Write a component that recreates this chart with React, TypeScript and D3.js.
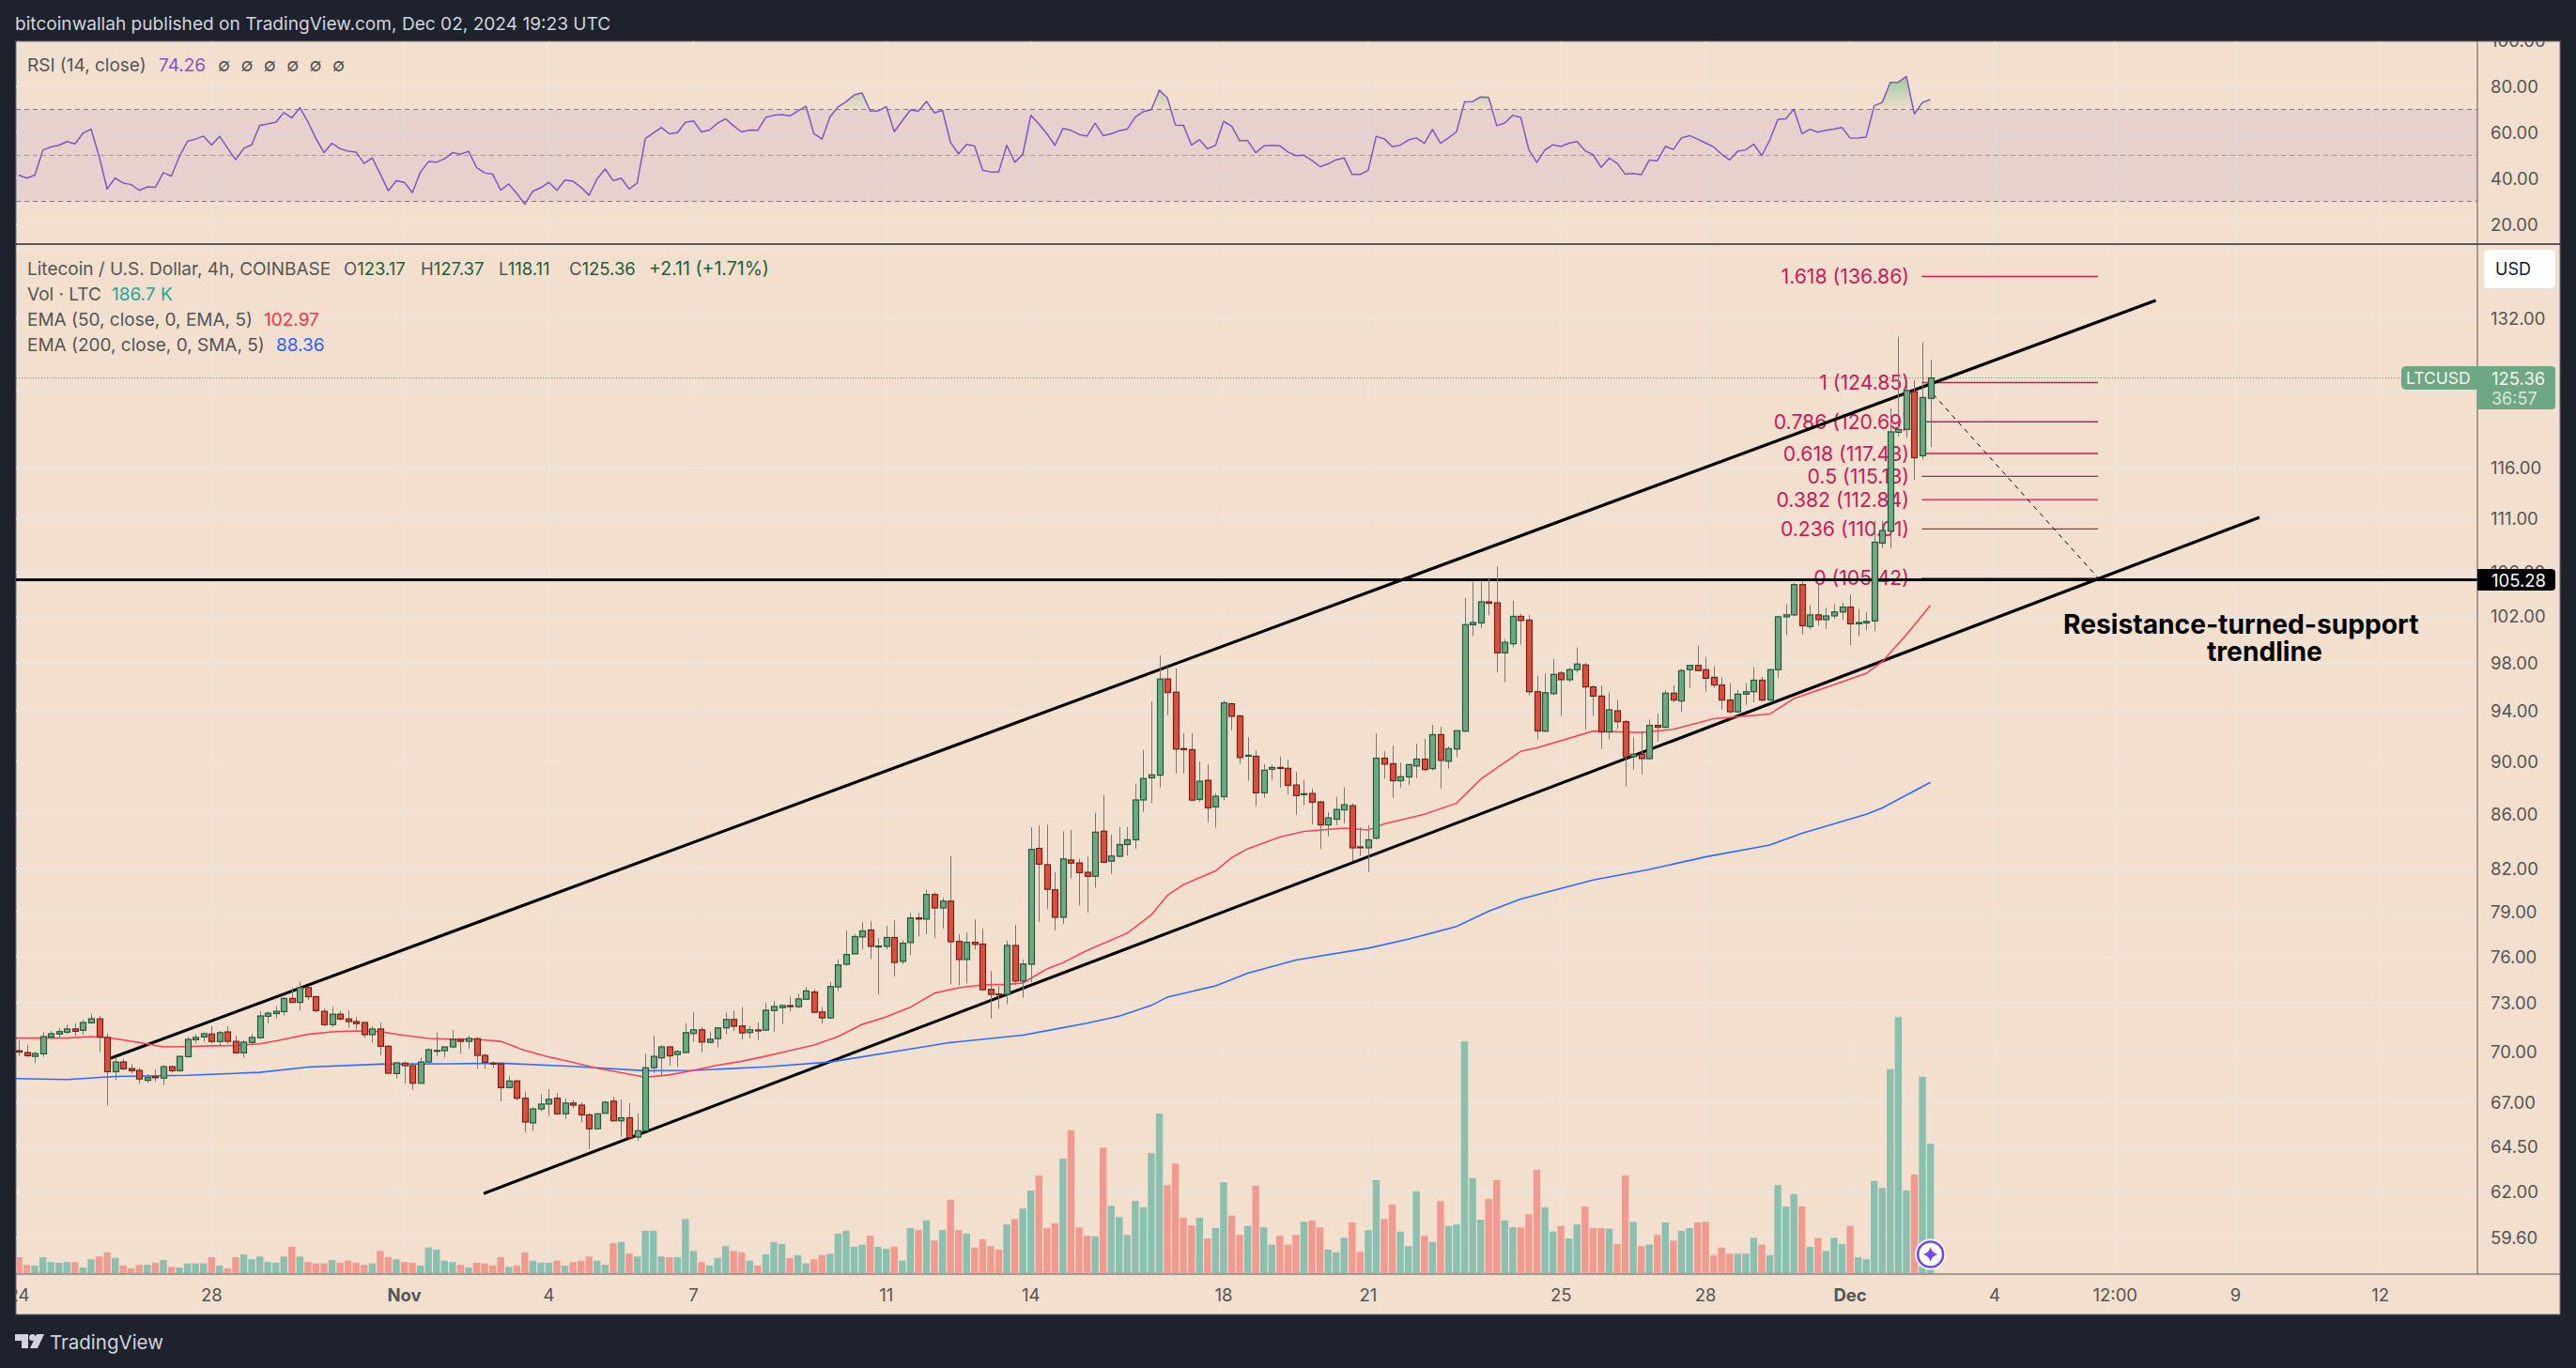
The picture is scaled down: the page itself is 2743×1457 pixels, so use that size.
import React from "react";
import * as d3 from "d3";

const opens = [
70.05,69.94,69.71,69.86,70.89,71.07,71.18,71.38,71.30,71.76,
72.01,70.86,68.79,69.37,68.98,68.87,68.28,68.49,68.41,69.09,
68.85,69.69,70.72,70.89,71.07,70.61,71.20,70.62,69.92,70.55,
70.84,72.17,72.34,72.46,73.29,73.04,73.98,73.40,72.48,71.65,
72.30,72.0,71.84,71.78,71.03,71.38,70.32,68.68,69.30,69.15,
68.11,69.37,70.03,70.05,70.28,70.74,70.62,70.78,69.77,69.30,
69.26,67.85,68.24,67.23,65.81,66.61,66.89,67.23,66.33,66.95,
66.83,66.27,65.48,66.36,67.06,65.93,66.10,65.01,65.37,69.03,
69.62,70.28,69.82,69.94,71.10,71.33,70.56,70.79,71.45,71.97,
71.57,71.16,71.32,71.31,72.53,72.71,72.84,72.77,73.24,73.70,
72.44,72.07,74.03,75.49,76.17,77.30,77.76,76.67,76.67,77.26,
75.68,76.92,78.58,78.50,80.19,79.26,79.73,77.0,75.80,76.94,
76.82,73.87,73.57,73.55,76.73,74.40,75.49,83.45,82.28,80.51,
78.62,82.62,82.41,81.74,81.46,84.70,82.53,82.88,83.73,84.07,
87.02,88.70,88.91,96.62,95.52,90.97,90.89,87.06,88.51,86.50,
87.27,94.57,93.58,90.42,90.37,87.56,89.36,89.50,89.43,88.15,
87.45,87.51,86.87,85.16,85.58,86.28,86.59,83.56,83.49,84.19,
90.22,89.79,88.48,88.77,89.62,90.15,89.41,92.08,89.98,90.94,
92.36,101.26,101.42,103.29,103.20,98.83,99.61,102.0,101.67,95.56,
92.36,95.40,97.12,96.56,97.4,97.8,95.96,95.2,92.29,94.0,
93.12,90.34,90.53,90.19,92.82,92.67,95.44,94.8,97.4,97.76,
97.4,96.76,96.12,94.88,93.92,95.36,95.56,96.52,94.88,97.4,
101.96,102.13,104.84,101.1,102.13,101.71,102.04,102.39,102.82,101.34,
101.42,101.6,108.67,109.8,119.6,119.9,123.87,117.2,123.17];

const closes = [
69.97,69.75,69.88,70.91,71.09,71.22,71.38,71.24,71.78,72.01,
70.89,68.79,69.37,68.96,68.85,68.36,68.45,68.45,69.09,68.85,
69.71,70.74,70.86,71.09,70.61,71.15,70.62,69.92,70.57,70.86,
72.19,72.36,72.48,73.29,73.04,73.98,73.40,72.52,71.65,72.30,
72.0,71.84,71.71,71.03,71.38,70.32,68.70,69.32,69.15,68.11,
69.37,70.11,70.07,70.28,70.74,70.62,70.80,69.77,69.35,69.26,
67.85,68.24,67.23,65.86,66.61,66.89,67.17,66.33,66.95,66.83,
66.27,65.48,66.33,67.0,65.93,66.10,64.97,65.37,69.03,69.71,
70.28,69.74,70.0,71.16,71.33,70.58,70.75,71.45,71.97,71.55,
71.14,71.33,71.31,72.55,72.78,72.84,72.77,73.26,73.77,72.42,
72.07,74.05,75.45,76.13,77.32,77.70,76.67,76.69,77.26,75.61,
76.88,78.58,78.50,80.19,79.26,79.73,76.98,75.80,76.94,76.80,
73.85,73.55,73.55,76.73,74.40,75.51,83.38,82.32,80.55,78.62,
82.69,82.39,81.72,81.46,84.63,82.46,82.90,83.73,84.07,87.02,
88.65,88.93,96.62,95.49,90.94,90.94,87.01,88.44,86.43,87.30,
94.65,93.55,90.27,90.45,87.56,89.29,89.50,89.45,88.13,87.35,
87.49,86.85,85.16,85.68,86.31,86.66,83.49,83.52,84.07,90.22,
89.76,88.48,88.79,89.72,90.15,89.34,92.08,90.05,90.97,92.39,
101.27,101.46,103.29,103.16,98.83,99.73,102.0,101.63,95.56,92.38,
95.48,97.0,96.56,97.4,97.88,95.96,95.2,92.29,94.08,93.12,
90.34,90.53,90.19,92.82,92.67,95.44,94.88,97.32,97.76,97.32,
96.68,96.12,94.88,93.92,95.36,95.56,96.52,94.88,97.4,101.96,
102.13,104.84,101.18,102.13,101.71,102.04,102.39,102.82,101.34,101.46,
101.55,108.76,109.86,119.65,119.9,124.0,117.0,123.26,125.36];

const highs = [
70.68,70.39,70.01,71.17,71.26,71.45,71.65,71.74,71.94,72.32,
72.19,71.11,69.67,69.54,69.26,69.02,68.64,68.92,69.17,69.17,
69.75,70.88,71.07,71.17,71.59,71.26,71.55,70.97,70.68,71.07,
72.48,72.48,72.81,73.38,73.96,74.35,74.10,73.48,72.65,72.77,
72.52,72.55,72.13,71.84,71.55,71.78,70.39,69.35,69.39,69.34,
69.64,70.2,71.17,70.30,71.32,70.82,70.97,70.88,69.86,69.41,
69.35,68.51,68.32,67.62,66.72,67.47,67.76,67.53,67.23,67.10,
67.0,66.35,66.35,67.08,67.29,67.14,66.97,66.35,69.86,70.97,
70.40,70.34,70.11,71.75,72.40,71.51,71.20,71.51,72.40,72.52,
72.75,71.57,71.80,73.02,73.16,72.92,73.39,73.57,74.03,73.87,
72.75,74.34,75.82,77.72,77.47,78.29,78.35,77.22,78.03,78.41,
77.09,78.92,78.92,80.53,80.32,79.95,82.92,77.47,77.59,78.48,
77.84,75.05,74.07,77.03,78.10,75.80,85.0,85.13,85.17,81.76,
84.68,84.79,82.71,82.85,86.05,87.40,84.45,85.0,85.0,88.25,
90.84,94.76,98.63,97.66,97.50,92.19,92.19,89.95,89.74,87.54,
94.84,94.68,93.68,91.89,90.85,89.76,89.74,90.32,90.10,89.17,
88.53,87.89,86.95,86.12,87.25,87.96,86.76,85.0,85.14,92.19,
90.77,91.22,89.88,89.76,91.37,91.74,92.86,92.71,91.14,92.42,
103.63,105.1,105.1,105.44,106.5,100.02,103.38,102.2,102.13,96.88,
97.08,98.29,97.28,97.56,99.32,98.0,96.08,96.08,95.48,94.88,
93.24,91.87,92.38,93.31,93.77,95.68,96.08,97.48,97.8,99.44,
98.49,97.68,96.76,96.28,95.68,96.28,97.6,96.8,97.48,102.0,
103.08,105.01,105.1,102.99,104.88,102.77,103.08,103.2,103.94,102.65,
102.34,110.8,110.8,122.1,129.9,125.1,125.1,129.3,127.37];

const lows = [
69.73,69.67,69.30,69.67,70.78,70.82,71.07,70.97,71.01,71.74,
69.97,66.82,68.28,68.88,68.70,68.08,68.13,68.21,68.0,68.73,
68.79,69.64,70.49,70.59,70.49,70.39,70.49,69.88,69.64,70.39,
70.78,71.71,72.03,72.23,73.0,72.55,73.19,72.42,71.55,71.51,
71.90,71.45,71.36,70.84,70.55,69.79,68.66,68.38,68.09,67.72,
68.09,69.32,69.73,69.64,70.2,69.86,70.16,68.96,68.96,69.03,
67.04,67.79,67.10,65.26,65.35,66.48,66.21,66.29,66.03,66.63,
65.84,64.33,65.44,66.33,65.91,65.03,64.93,64.80,65.33,68.70,
68.6,69.14,69.08,69.92,70.60,69.95,70.50,70.25,71.06,71.24,
70.74,70.80,70.70,71.31,71.17,71.70,72.48,72.67,73.22,72.36,
71.70,72.01,73.77,75.37,76.17,76.46,75.84,73.55,76.48,74.68,
75.49,76.08,77.34,77.47,77.22,77.84,74.19,74.13,74.25,76.46,
73.77,72.04,72.63,72.92,74.13,73.34,74.32,78.31,79.17,77.74,
78.16,81.31,79.43,78.92,80.66,82.41,81.63,82.8,82.92,83.40,
86.12,86.78,87.96,93.63,89.05,89.05,86.95,86.87,85.37,84.96,
86.99,92.44,89.76,88.48,86.55,87.18,88.53,87.96,87.42,85.91,
86.62,85.21,83.40,84.31,85.14,85.28,82.53,82.9,81.75,84.1,
88.65,87.18,87.96,88.13,88.67,89.19,89.27,87.89,89.38,90.32,
92.26,100.27,100.97,102.09,97.16,96.36,99.32,99.53,95.28,91.71,
92.29,95.28,93.58,96.36,97.16,92.48,93.58,90.95,91.71,92.55,
88.05,89.34,88.97,90.08,91.52,92.55,94.68,93.88,95.88,97.28,
95.56,95.88,94.08,93.77,93.81,94.48,94.68,94.76,94.8,96.68,
100.35,102,100.43,100.85,101.18,100.89,101.79,101.67,99.45,100.27,
100.76,100.7,108.2,108.2,119.2,119.0,114.8,116.8,118.11];

const volumesK = [
23,12,11,23,16,15,16,16,8,20,
24,30,22,11,7,12,12,15,19,9,
8,14,14,14,23,11,7,23,27,20,
24,16,15,24,38,24,16,14,14,19,
15,18,15,12,14,32,23,20,16,15,
11,37,34,18,16,12,8,15,14,11,
23,9,11,30,18,15,15,18,11,16,
18,24,18,12,43,45,28,24,61,61,
24,23,23,78,32,16,11,22,39,32,
30,18,11,27,45,42,22,26,14,20,
26,28,57,61,38,41,54,38,35,38,
18,65,62,76,47,62,106,62,57,37,
49,39,34,70,78,93,119,141,65,72,
165,206,66,54,53,181,97,81,55,104,
95,173,230,127,158,80,69,80,50,65,
131,83,55,68,126,66,41,54,41,55,
74,76,66,34,30,51,73,31,62,134,
78,99,60,39,118,54,45,104,68,70,
334,137,77,107,134,76,66,66,85,149,
95,60,68,50,70,96,65,65,64,42,
141,74,39,41,55,73,47,61,65,73,
74,26,37,28,28,28,51,41,26,127,
96,114,96,38,51,32,51,42,68,23,
20,133,123,294,369,119,142,283,186.7];

const rsiValues = [
41.4,40.1,41.4,52.3,53.7,54.4,56.0,55.0,59.7,61.4,
49.6,35.4,40.2,38.0,37.3,34.8,36.3,36.1,42.5,41.0,
49.6,56.1,57.1,58.4,54.5,58.3,53.1,48.1,53.0,54.6,
63.1,63.7,64.4,68.6,66.3,70.7,64.6,57.3,51.2,55.3,
52.9,51.8,51.4,46.5,48.9,42.0,34.6,39.0,38.3,33.8,
42.7,47.3,47.0,48.5,51.2,50.5,51.8,44.7,42.4,41.8,
34.9,37.6,33.5,28.8,34.4,36.0,38.3,34.8,39.3,38.8,
36.1,32.7,39.8,44.1,39.0,40.1,35.4,38.0,57.3,59.7,
62.1,59.4,59.9,64.4,65.0,60.2,61.0,64.0,65.9,62.8,
60.2,61.0,60.9,66.5,67.4,67.8,67.1,69.3,71.4,59.4,
57.1,66.7,71.1,73.3,76.3,77.1,69.3,69.3,71.2,60.3,
65.1,69.7,69.3,73.5,68.5,69.6,55.6,50.7,54.8,54.1,
43.6,42.8,42.8,54.4,47.0,50.5,67.4,63.7,59.4,54.4,
61.7,60.9,59.1,58.4,64.0,58.6,59.4,60.7,61.4,66.7,
69.0,69.9,78.4,75.0,63.2,63.1,54.5,56.8,52.9,54.4,
64.8,62.7,56.4,56.4,51.2,54.1,54.4,54.2,51.5,49.9,
50.1,47.8,45.1,46.3,48.1,48.9,41.7,41.7,43.5,58.3,
57.2,53.8,54.4,56.7,57.6,55.3,61.3,55.3,57.6,60.3,
73.3,73.4,75.4,75.2,62.9,64.1,67.4,66.5,52.4,47.0,
52.3,54.6,53.9,55.3,56.0,52.0,50.3,44.8,48.8,46.6,
41.8,42.1,41.6,48.0,47.7,53.9,52.6,57.6,58.6,57.1,
55.4,53.7,50.5,48.0,51.8,52.4,54.9,49.9,56.7,65.6,
65.9,70.1,59.5,61.3,60.1,60.9,61.4,62.1,57.5,57.6,
58.0,71.6,73.0,81.7,81.8,84.3,68.0,73.0,74.26];

const ema50Bars = [-0.4,6,9,12,15,18,21,24,27,30,33,36,39,42,45,48,51,54,57,60,63,66,69,72,75,78,81,84,87,90,93,96,99,102,105,108,111,114,117,120,123,125,126,128,130,133,138,141,143,145,149,151,153,157,160,165,168,170,175,179,182,187,189,196,202,206,211,218,221,230,232,235,238];
const ema50Values = [70.82,70.82,70.91,70.78,70.55,70.28,70.3,70.35,70.37,70.47,70.74,71.05,71.2,71.26,71.22,70.99,70.8,70.76,70.74,70.62,70.07,69.67,69.35,69.0,68.73,68.47,68.6,68.87,69.18,69.41,69.72,70.05,70.4,70.92,71.66,72.13,72.73,73.63,73.97,74.15,74.19,74.27,74.58,75.19,75.59,76.4,77.55,78.78,80.13,80.88,81.84,82.78,83.43,84.27,84.69,84.93,84.79,85.23,85.95,86.78,88.6,90.76,91.03,92.36,92.24,92.5,93.35,93.73,95.0,97.08,98.08,100.4,102.97];
const ema200Bars = [-0.4,6,12,21,30,36,45,54,60,69,78,84,93,101,111,116,125,129,133,137,141,143,149,153,159,168,173,179,183,187,196,203,210,218,222,230,232,238];
const ema200Values = [68.38,68.33,68.51,68.58,68.75,69.07,69.24,69.26,69.3,69.11,68.85,68.87,69.08,69.37,70.15,70.55,71.0,71.37,71.74,72.18,72.85,73.38,74.09,74.91,75.77,76.55,77.15,78.0,79.04,79.87,81.2,81.94,82.84,83.69,84.54,85.95,86.42,88.36];

const priceTicks = [132,116,111,102,98,94,90,86,82,79,76,73,70,67,64.5,62,59.6];
const hiddenPriceGrid = [140,124,106];
const rsiTicks = [100,80,60,40,20];
const dateLabels = ["24","28","Nov","4","7","11","14","18","21","25","28","Dec","4","12:00","9","12"];
const dateBars = [0,24,48,66,84,108,126,150,168,192,210,228,246,261,276,294];
const boldDates = ["Nov","Dec"];
const fibRatios = ["1.618","1","0.786","0.618","0.5","0.382","0.236","0"];
const fibPrices = [136.86,124.85,120.69,117.43,115.13,112.84,110.01,105.42];
const upperChannel = [[11.46,69.6],[266.05,134.05]];
const lowerChannel = [[57.87,61.91],[278.97,111.12]];
const dashedTrend = [[238.35,123.6],[258.9,105.42]];
const horizontalLevel = 105.28;
const lastClose = 125.36;

const FONT = "Inter, Roboto, 'Noto Sans', sans-serif";
const BG = "#f2dfce", DARK = "#1e222d", GRID = "#ebe5df", TXT = "#555555";

const x = d3.scaleLinear().domain([0, 238]).range([20, 2055.6]);
const y = d3.scaleLog().domain([59.6, 132]).range([1318, 339]);
const yRsi = d3.scaleLinear().domain([100, 20]).range([43, 239]);
const yVol = d3.scaleLinear().domain([0, 186.7]).range([1356, 1218]);

const L = 17, R = 2638, OUT = 2726, T = 44, SEP = 260, AXB = 1357, B = 1400;

const ln = (bars: number[], vals: number[]) =>
  d3.line<number>().x((b) => x(b)).y((_, i) => y(vals[i]))(bars) as string;

export default function App() {
  const rsiLine = d3.line<number>().x((_, i) => x(i)).y((v) => yRsi(v))(rsiValues) as string;
  const rsiArea = d3.area<number>().x((_, i) => x(i)).y0(yRsi(70)).y1((v) => yRsi(v))(rsiValues) as string;
  const seg = (s: number[][]) => ({ x1: x(s[0][0]), y1: y(s[0][1]), x2: x(s[1][0]), y2: y(s[1][1]) });
  const yLast = y(lastClose), yH = y(horizontalLevel);
  const t = (props: any, s: any) => <text fontFamily={FONT} {...props}>{s}</text>;
  return (
    <div>
      <style>{`html,body{margin:0;padding:0;background:${DARK}} svg{display:block}`}</style>
      <svg width={2743} height={1457}>
        <defs>
          <clipPath id="mainClip"><rect x={L} y={SEP} width={R - L} height={AXB - SEP} /></clipPath>
          <clipPath id="rsiClip"><rect x={L} y={T} width={R - L} height={SEP - T} /></clipPath>
          <clipPath id="above70"><rect x={L} y={T} width={R - L} height={yRsi(70) - T} /></clipPath>
          <clipPath id="rightClip"><rect x={R} y={T} width={OUT - R} height={SEP - T} /></clipPath>
          <linearGradient id="obGrad" gradientUnits="userSpaceOnUse" x1="0" x2="0" y1={yRsi(85)} y2={yRsi(70)}>
            <stop offset="0" stopColor="#7fc08a" stopOpacity={0.75} />
            <stop offset="1" stopColor="#7fc08a" stopOpacity={0.03} />
          </linearGradient>
        </defs>
        <rect x={0} y={0} width={2743} height={1457} fill={DARK} />
        <rect x={L} y={T} width={OUT - L} height={B - T} fill={BG} stroke="#6b6e78" strokeWidth={1} />
        {t({ x: 16, y: 32, fill: "#d1d4dc", fontSize: 19.1 }, "bitcoinwallah published on TradingView.com, Dec 02, 2024 19:23 UTC")}

        {/* grid */}
        {dateBars.map((b, i) => (
          <line key={i} x1={x(b)} x2={x(b)} y1={T} y2={AXB} stroke={GRID} strokeWidth={1.2} />
        ))}
        {priceTicks.concat(hiddenPriceGrid).map((p) => (
          <line key={p} x1={L} x2={R} y1={y(p)} y2={y(p)} stroke={GRID} strokeWidth={1.6} />
        ))}
        {rsiTicks.slice(1).map((v) => (
          <line key={v} x1={L} x2={R} y1={yRsi(v)} y2={yRsi(v)} stroke={GRID} strokeWidth={1.6} />
        ))}

        {/* RSI */}
        <rect x={L} y={yRsi(70)} width={R - L} height={yRsi(30) - yRsi(70)} fill="#7e57c2" fillOpacity={0.1} />
        <line x1={L} x2={R} y1={yRsi(70)} y2={yRsi(70)} stroke="#787b86" strokeWidth={1.2} strokeDasharray="5 4" />
        <line x1={L} x2={R} y1={yRsi(50)} y2={yRsi(50)} stroke="#9f9a98" strokeWidth={1.2} strokeDasharray="5 4" />
        <line x1={L} x2={R} y1={yRsi(30)} y2={yRsi(30)} stroke="#787b86" strokeWidth={1.2} strokeDasharray="5 4" />
        <g clipPath="url(#above70)"><path d={rsiArea} fill="url(#obGrad)" /></g>
        <g clipPath="url(#rsiClip)"><path d={rsiLine} fill="none" stroke="#7e57c2" strokeWidth={1.5} strokeLinejoin="round" /></g>

        <line x1={L} x2={OUT} y1={SEP} y2={SEP} stroke="#2a2a2e" strokeWidth={1.6} />

        <g clipPath="url(#mainClip)">
          {/* volume */}
          {volumesK.map((v, i) => (
            <rect key={i} x={x(i) - 3.7} width={7.4} y={yVol(v)} height={yVol(0) - yVol(v)}
              fill={closes[i] >= opens[i] ? "#8bbfb0" : "#f19a8f"} />
          ))}

          {/* last price line */}
          <line x1={L} x2={R} y1={yLast} y2={yLast} stroke="#4f9a74" strokeWidth={1} strokeDasharray="1 2" />

          {/* fib */}
          {fibPrices.map((p, i) => (
            <g key={i}>
              <line x1={2046.5} x2={2234} y1={y(p)} y2={y(p)} stroke="#c9195c" strokeWidth={1.4} />
              {t({ x: 2033, y: y(p) + 7.5, textAnchor: "end", fill: "#c9195c", fontSize: 21.2 }, `${fibRatios[i]} (${p.toFixed(2)})`)}
            </g>
          ))}

          {/* drawings */}
          <line {...seg(upperChannel)} stroke="#000" strokeWidth={3.2} />
          <line {...seg(lowerChannel)} stroke="#000" strokeWidth={3.2} />
          <line x1={L} x2={R} y1={yH} y2={yH} stroke="#000" strokeWidth={3.2} />
          <line {...seg(dashedTrend)} stroke="#000" strokeWidth={1} strokeDasharray="5 5" />

          {/* EMA */}
          <path d={ln(ema200Bars, ema200Values)} fill="none" stroke="#2f6bff" strokeWidth={1.6} />
          <path d={ln(ema50Bars, ema50Values)} fill="none" stroke="#f5435a" strokeWidth={1.6} />

          {/* candles */}
          {opens.map((o, i) => {
            const up = closes[i] >= o;
            const top = y(Math.max(o, closes[i]));
            const bot = y(Math.min(o, closes[i]));
            const cx = Math.round(x(i)) + 0.5;
            return (
              <g key={i}>
                <line x1={cx} x2={cx} y1={y(highs[i])} y2={y(lows[i])} stroke="#777777" strokeWidth={1} />
                <rect x={cx - 3} width={6} y={top} height={Math.max(bot - top, 1)}
                  fill={up ? "#6ea784" : "#d9503f"} stroke={up ? "#1d5c3a" : "#7a1f16"} strokeWidth={1.2} />
              </g>
            );
          })}
        </g>

        {t({ x: 2197, y: 675, fontSize: 28.2, fontWeight: 700, fill: "#000" }, "Resistance-turned-support")}
        {t({ x: 2350, y: 704, fontSize: 28.2, fontWeight: 700, fill: "#000" }, "trendline")}

        {/* legends */}
        {t({ x: 29, y: 76, fill: TXT, fontSize: 19 }, "RSI (14, close)")}
        {t({ x: 169, y: 76, fill: "#7e57c2", fontSize: 19 }, "74.26")}
        {[0, 1, 2, 3, 4, 5].map((k) => t({ key: k, x: 232 + k * 24.4, y: 76, fill: TXT, fontSize: 19 }, "∅"))}
        {t({ x: 29, y: 293, fill: TXT, fontSize: 19 }, "Litecoin / U.S. Dollar, 4h, COINBASE")}
        {[["O", "123.17", 366], ["H", "127.37", 448], ["L", "118.11", 531], ["C", "125.36", 606]].map((d: any, k) => (
          <text key={k} x={d[2]} y={293} fontFamily={FONT} fontSize={18.5} fill="#1e5e3a"><tspan fill={TXT}>{d[0]}</tspan>{d[1]}</text>
        ))}
        {t({ x: 691, y: 293, fill: "#1e5e3a", fontSize: 19.5 }, "+2.11 (+1.71%)")}
        {t({ x: 29, y: 320, fill: TXT, fontSize: 19 }, "Vol · LTC")}
        {t({ x: 119, y: 320, fill: "#26a69a", fontSize: 19 }, "186.7 K")}
        {t({ x: 29, y: 347, fill: TXT, fontSize: 19 }, "EMA (50, close, 0, EMA, 5)")}
        {t({ x: 281, y: 347, fill: "#f23645", fontSize: 19 }, "102.97")}
        {t({ x: 29, y: 374, fill: TXT, fontSize: 19 }, "EMA (200, close, 0, SMA, 5)")}
        {t({ x: 294, y: 374, fill: "#2962ff", fontSize: 19 }, "88.36")}

        {/* star */}
        <circle cx={x(238)} cy={1336} r={16.5} fill="#ffffff" />
        <circle cx={x(238)} cy={1336} r={13.5} fill="#ffffff" stroke="#6f4be8" strokeWidth={2.6} />
        <path transform={`translate(${x(238)},1336)`} d="M0,-8 Q1.4,-1.4 8,0 Q1.4,1.4 0,8 Q-1.4,1.4 -8,0 Q-1.4,-1.4 0,-8Z" fill="#6f4be8" />

        {/* right axis */}
        <line x1={R} x2={R} y1={T} y2={AXB} stroke="#555" strokeWidth={1} />
        <line x1={L} x2={OUT} y1={AXB} y2={AXB} stroke="#555" strokeWidth={1} />
        {priceTicks.map((p) => t({ key: p, x: 2652, y: y(p) + 7, fill: TXT, fontSize: 18.5 }, p.toFixed(2)))}
        {t({ x: 2652, y: y(106) + 7, fill: TXT, fontSize: 18.5 }, "106.00")}
        <g clipPath="url(#rightClip)">
          {rsiTicks.map((v) => t({ key: v, x: 2652, y: yRsi(v) + 7, fill: TXT, fontSize: 18.5 }, v.toFixed(2)))}
        </g>

        <rect x={2645} y={266} width={76} height={41} rx={5} fill="#ffffff" />
        {t({ x: 2676, y: 293, textAnchor: "middle", fill: "#131722", fontSize: 18 }, "USD")}

        <path d={`M2638,390 H2562 a5,5 0 0 0 -5,5 V410 a5,5 0 0 0 5,5 H2638Z`} fill="#6ea784" />
        {t({ x: 2562, y: 409, fill: "#f5f5f0", fontSize: 17.5 }, "LTCUSD")}
        <path d={`M2638,390 H2717 a4,4 0 0 1 4,4 V432 a4,4 0 0 1 -4,4 H2638Z`} fill="#6ea784" />
        {t({ x: 2653, y: 410, fill: "#f5f5f0", fontSize: 18.5 }, "125.36")}
        {t({ x: 2653, y: 431, fill: "#dbe7dc", fontSize: 18 }, "36:57")}

        <path d={`M2638,606 H2717 a4,4 0 0 1 4,4 V625 a4,4 0 0 1 -4,4 H2638Z`} fill="#000" />
        {t({ x: 2653, y: 625, fill: "#ffffff", fontSize: 18.5 }, "105.28")}

        {/* date axis */}
        <clipPath id="dateClip"><rect x={L} y={AXB} width={R - L} height={B - AXB} /></clipPath>
        <g clipPath="url(#dateClip)">
          {dateLabels.map((d, i) =>
            t({ key: i, x: x(dateBars[i]), y: 1386, textAnchor: "middle", fill: TXT, fontSize: 18.5,
                fontWeight: boldDates.includes(d) ? 700 : 400 }, d))}
        </g>

        {/* footer */}
        <path d="M16,1421 H30 V1436 H23 V1428 H16Z" fill="#d1d4dc" />
        <circle cx={34.5} cy={1424.5} r={3.5} fill="#d1d4dc" />
        <path d="M47,1421 L40,1436 H32 L39,1421Z" fill="#d1d4dc" />
        {t({ x: 53, y: 1437, fill: "#d1d4dc", fontSize: 20.5 }, "TradingView")}
      </svg>
    </div>
  );
}
